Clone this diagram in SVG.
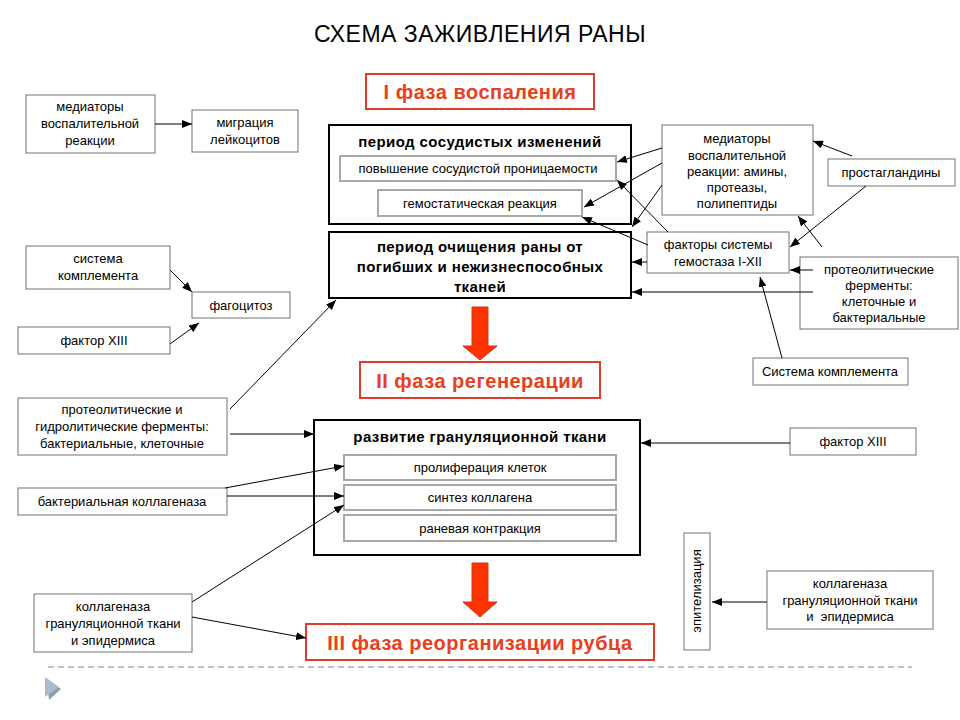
<svg xmlns="http://www.w3.org/2000/svg" width="960" height="720" viewBox="0 0 960 720">
<defs>
<marker id="ah" viewBox="0 0 10 8" refX="10" refY="4" markerUnits="userSpaceOnUse" markerWidth="10" markerHeight="8" orient="auto">
<path d="M0,0 L10,4 L0,8 z" fill="#000"/>
</marker>
</defs>
<style>
text{font-family:"Liberation Sans",Arial,sans-serif;fill:#000;text-anchor:middle}
.t{font-size:13px}
.b{font-size:15px;font-weight:bold;letter-spacing:0.4px}
.ph{font-size:20px;font-weight:bold;fill:#e8401c;letter-spacing:0.5px}
.box{fill:#fff;stroke:#707070;stroke-width:1}
.big{fill:#fff;stroke:#000;stroke-width:2}
.in{fill:#fff;stroke:#a8a8a8;stroke-width:2}
.red{fill:#fff;stroke:#e03c2c;stroke-width:2}
.arr{fill:#ff3300;stroke:#c8361a;stroke-width:1}
.c{stroke:#000;stroke-width:1;fill:none;marker-end:url(#ah)}
</style>
<rect width="960" height="720" fill="#fff"/>
<text x="480" y="42" style="font-size:23px;letter-spacing:0.5px">СХЕМА ЗАЖИВЛЕНИЯ РАНЫ</text>

<g id="phase1"><rect class="red" x="366" y="74" width="228" height="35"/><text class="ph" x="480" y="99">I фаза воспаления</text></g>

<g id="period1"><rect class="big" x="329" y="125" width="302" height="99"/><text class="b" x="480" y="147">период сосудистых изменений</text></g>
<g id="permeability"><rect class="in" x="340" y="156" width="276" height="25"/><text class="t" x="478" y="173">повышение сосудистой проницаемости</text></g>
<g id="hemostatic"><rect class="in" x="378" y="190" width="204" height="26"/><text class="t" x="480" y="208">гемостатическая реакция</text></g>

<g id="period2"><rect class="big" x="329" y="232" width="302" height="66"/><text class="b" x="480" y="252">период очищения раны от</text><text class="b" x="480" y="272">погибших и нежизнеспособных</text><text class="b" x="480" y="292">тканей</text></g>

<g id="arrow1"><path class="arr" d="M472,307 H488 V346 H497 L480,360 L463,346 H472 Z"/></g>

<g id="phase2"><rect class="red" x="360" y="362" width="240" height="36"/><text class="ph" x="480" y="388">II фаза регенерации</text></g>

<g id="granulation"><rect class="big" x="314" y="420" width="326" height="135"/><text class="b" x="480" y="442">развитие грануляционной ткани</text></g>
<g id="proliferation"><rect class="in" x="344" y="455" width="272" height="25"/><text class="t" x="480" y="472">пролиферация клеток</text></g>
<g id="collagen"><rect class="in" x="344" y="485" width="272" height="25"/><text class="t" x="480" y="502">синтез коллагена</text></g>
<g id="contraction"><rect class="in" x="344" y="515" width="272" height="26"/><text class="t" x="480" y="533">раневая контракция</text></g>

<g id="arrow2"><path class="arr" d="M472,563 H488 V602 H497 L480,617 L463,602 H472 Z"/></g>

<g id="phase3"><rect class="red" x="306" y="624" width="348" height="36"/><text class="ph" x="480" y="650">III фаза реорганизации рубца</text></g>

<g id="mediatorsL"><rect class="box" x="26" y="95" width="129" height="58"/><text class="t" x="90" y="111">медиаторы</text><text class="t" x="90" y="128">воспалительной</text><text class="t" x="90" y="145">реакции</text></g>
<g id="migration"><rect class="box" x="192" y="110" width="106" height="42"/><text class="t" x="245" y="127">миграция</text><text class="t" x="245" y="144">лейкоцитов</text></g>
<g id="complementL"><rect class="box" x="26" y="246" width="144" height="43"/><text class="t" x="98" y="263">система</text><text class="t" x="98" y="280">комплемента</text></g>
<g id="phagocytosis"><rect class="box" x="192" y="292" width="98" height="26"/><text class="t" x="241" y="310">фагоцитоз</text></g>
<g id="factor13L"><rect class="box" x="18" y="327" width="152" height="27"/><text class="t" x="94" y="345">фактор XIII</text></g>
<g id="proteolyticL"><rect class="box" x="18" y="398" width="209" height="57"/><text class="t" x="122" y="414">протеолитические и</text><text class="t" x="122" y="431">гидролитические ферменты:</text><text class="t" x="122" y="448">бактериальные, клеточные</text></g>
<g id="bactcollagenase"><rect class="box" x="18" y="488" width="209" height="27"/><text class="t" x="122" y="506">бактериальная коллагеназа</text></g>
<g id="collagenaseL"><rect class="box" x="34" y="594" width="158" height="58"/><text class="t" x="113" y="611">коллагеназа</text><text class="t" x="113" y="628">грануляционной ткани</text><text class="t" x="113" y="645">и эпидермиса</text></g>

<g id="mediatorsR"><rect class="box" x="662" y="125" width="151" height="90"/><text class="t" x="737" y="143">медиаторы</text><text class="t" x="737" y="160">воспалительной</text><text class="t" x="737" y="176">реакции: амины,</text><text class="t" x="737" y="192">протеазы,</text><text class="t" x="737" y="208">полипептиды</text></g>
<g id="prostaglandins"><rect class="box" x="828" y="159" width="127" height="27"/><text class="t" x="891" y="177">простагландины</text></g>
<g id="hemostasis"><rect class="box" x="647" y="232" width="142" height="41"/><text class="t" x="718" y="249">факторы системы</text><text class="t" x="718" y="266">гемостаза I-XII</text></g>
<g id="proteolyticR"><rect class="box" x="800" y="257" width="158" height="72"/><text class="t" x="879" y="274">протеолитические</text><text class="t" x="879" y="290">ферменты:</text><text class="t" x="879" y="306">клеточные и</text><text class="t" x="879" y="322">бактериальные</text></g>
<g id="complementR"><rect class="box" x="753" y="358" width="155" height="27"/><text class="t" x="830" y="376">Система комплемента</text></g>
<g id="factor13R"><rect class="box" x="790" y="428" width="126" height="27"/><text class="t" x="853" y="446">фактор XIII</text></g>
<g id="epithelization"><rect class="box" x="684" y="533" width="26" height="117"/><text class="t" transform="translate(701,591) rotate(-90)">эпителизация</text></g>
<g id="collagenaseR"><rect class="box" x="767" y="571" width="166" height="58"/><text class="t" x="850" y="588">коллагеназа</text><text class="t" x="850" y="605">грануляционной ткани</text><text class="t" x="850" y="621" xml:space="preserve">и  эпидермиса</text></g>

<g id="connectors">
<line class="c" x1="155" y1="124" x2="192" y2="124"/>
<line class="c" x1="170" y1="270" x2="192" y2="292"/>
<line class="c" x1="170" y1="344" x2="199" y2="323"/>
<line class="c" x1="230" y1="409" x2="336" y2="300"/>
<line class="c" x1="230" y1="434" x2="314" y2="434"/>
<line class="c" x1="225" y1="488" x2="344" y2="466"/>
<line class="c" x1="227" y1="496" x2="344" y2="496"/>
<line class="c" x1="192" y1="602" x2="344" y2="505"/>
<line class="c" x1="192" y1="617" x2="306" y2="638"/>
<line class="c" x1="662" y1="148" x2="617" y2="162"/>
<line class="c" x1="662" y1="163" x2="584" y2="207"/>
<line class="c" x1="662" y1="185" x2="632" y2="227"/>
<line class="c" x1="668" y1="232" x2="617" y2="180"/>
<line class="c" x1="648" y1="245" x2="582" y2="217"/>
<line class="c" x1="647" y1="262" x2="632" y2="262"/>
<line class="c" x1="813" y1="270" x2="790" y2="270"/>
<line class="c" x1="813" y1="292" x2="632" y2="292"/>
<line class="c" x1="852" y1="156" x2="813" y2="141"/>
<line class="c" x1="866" y1="186" x2="790" y2="247"/>
<line class="c" x1="822" y1="247" x2="798" y2="216"/>
<line class="c" x1="782" y1="358" x2="760" y2="277"/>
<line class="c" x1="790" y1="443" x2="641" y2="443"/>
<line class="c" x1="767" y1="602" x2="712" y2="602"/>
</g>

<line x1="48" y1="667" x2="912" y2="667" stroke="#b4c4d4" stroke-width="2" stroke-dasharray="6,4"/>
<path d="M47,679 L61,689 L49,700 Z" fill="#8a9cae"/>
<path d="M45,677 L59,687 L45,697 Z" fill="#a9bccd"/>
</svg>
